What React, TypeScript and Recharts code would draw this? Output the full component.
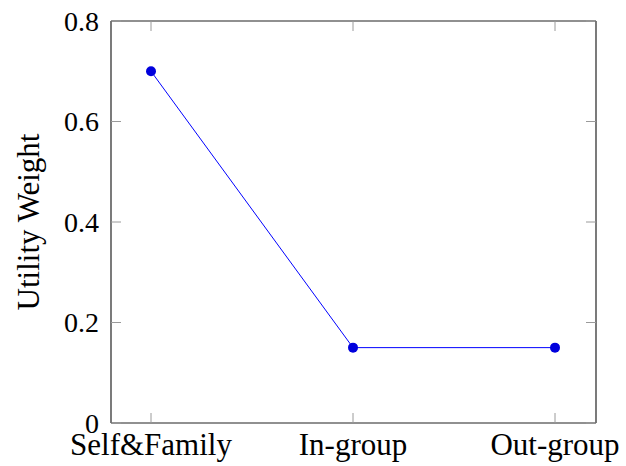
import { Line, LineChart, XAxis, YAxis } from "recharts";

const categories = ["Self&Family", "In-group", "Out-group"];
const weights = [0.7, 0.15, 0.15];
const yTicks = [0, 0.2, 0.4, 0.6, 0.8];

const data = categories.map((name, i) => ({ name, weight: weights[i] }));

// plot frame, in page pixels
const PLOT_LEFT = 111;
const PLOT_RIGHT = 596;
const PLOT_TOP = 21;
const PLOT_BOTTOM = 423;
const TICK = 10;
const TICK_COLOR = "#9a9a9a";
const FONT = "'Liberation Serif', serif";

const BottomTick = (props: any) => (
  <g>
    <line x1={props.x} x2={props.x} y1={PLOT_BOTTOM} y2={PLOT_BOTTOM - TICK} stroke={TICK_COLOR} />
    <text x={props.x} y={455} textAnchor="middle" fontSize={31} fontFamily={FONT} fill="#000">
      {props.payload.value}
    </text>
  </g>
);

const TopTick = (props: any) => (
  <line x1={props.x} x2={props.x} y1={PLOT_TOP} y2={PLOT_TOP + TICK} stroke={TICK_COLOR} />
);

const LeftTick = (props: any) => (
  <g>
    <line x1={PLOT_LEFT} x2={PLOT_LEFT + TICK} y1={props.y} y2={props.y} stroke={TICK_COLOR} />
    <text x={99} y={props.y + 9.5} textAnchor="end" fontSize={28} fontFamily={FONT} fill="#000">
      {props.payload.value === 0 ? "0" : props.payload.value.toFixed(1)}
    </text>
  </g>
);

const RightTick = (props: any) => (
  <line x1={PLOT_RIGHT - TICK} x2={PLOT_RIGHT} y1={props.y} y2={props.y} stroke={TICK_COLOR} />
);

export default function App() {
  return (
    <div style={{ position: "absolute", left: 0, top: 0, background: "#fff" }}>
      <LineChart
        width={626}
        height={466}
        data={data}
        margin={{ top: PLOT_TOP - 1, right: 626 - PLOT_RIGHT - 1, bottom: 0, left: 0 }}
      >
        <XAxis
          dataKey="name"
          height={466 - PLOT_BOTTOM}
          padding={{ left: 40, right: 41 }}
          axisLine={{ stroke: "#222", strokeWidth: 1.2 }}
          tickLine={false}
          tick={<BottomTick />}
          interval={0}
        />
        <XAxis
          xAxisId="top"
          orientation="top"
          dataKey="name"
          height={1}
          padding={{ left: 40, right: 41 }}
          axisLine={{ stroke: "#222", strokeWidth: 1.2 }}
          tickLine={false}
          tick={<TopTick />}
          interval={0}
        />
        <YAxis
          width={PLOT_LEFT}
          domain={[0, 0.8]}
          ticks={yTicks}
          axisLine={{ stroke: "#222", strokeWidth: 1.2 }}
          tickLine={false}
          tick={<LeftTick />}
          label={{
            value: "Utility Weight",
            angle: -90,
            position: "insideLeft",
            offset: 28,
            style: { textAnchor: "middle", fontSize: 31, fontFamily: FONT, fill: "#000" },
          }}
        />
        <YAxis
          yAxisId="right"
          orientation="right"
          width={1}
          domain={[0, 0.8]}
          ticks={yTicks}
          axisLine={{ stroke: "#222", strokeWidth: 1.2 }}
          tickLine={false}
          tick={<RightTick />}
        />
        <Line
          xAxisId="top"
          yAxisId="right"
          dataKey="weight"
          stroke="none"
          dot={false}
          activeDot={false}
          isAnimationActive={false}
        />
        <Line
          dataKey="weight"
          stroke="#0000ff"
          strokeWidth={1}
          dot={{ r: 5, fill: "#0000dd", stroke: "#0000dd", strokeWidth: 0 }}
          activeDot={false}
          isAnimationActive={false}
        />
      </LineChart>
    </div>
  );
}
